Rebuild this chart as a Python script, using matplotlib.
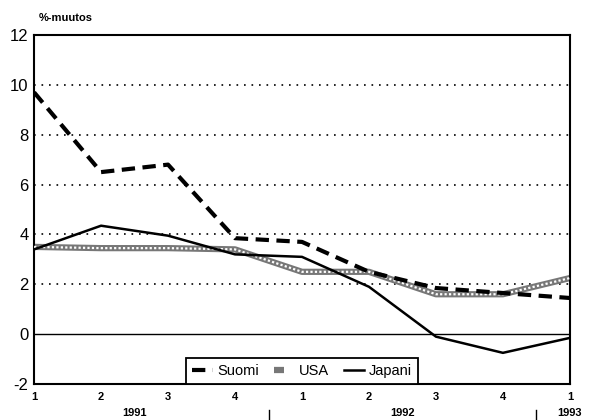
import matplotlib
matplotlib.use("Agg")
import matplotlib.pyplot as plt
import matplotlib.transforms as mtransforms
from matplotlib.legend_handler import HandlerTuple

plt.rcParams['font.family'] = ['Liberation Sans', 'DejaVu Sans']

# ============================================================================
# Data (annual % change, quarterly)
# ============================================================================
quarter_labels = ['1', '2', '3', '4', '1', '2', '3', '4', '1']
years = ['1991', '1992', '1993']
year_pos = [1.5, 5.5, 8]
year_breaks = [3.5, 7.5]

suomi = [9.7, 6.5, 6.8, 3.85, 3.7, 2.5, 1.85, 1.65, 1.45]
usa = [3.5, 3.45, 3.45, 3.4, 2.5, 2.5, 1.6, 1.6, 2.25]
japani = [3.4, 4.35, 3.95, 3.2, 3.1, 1.9, -0.1, -0.75, -0.15]

x = list(range(len(quarter_labels)))

# ============================================================================
# Plotting
# ============================================================================
fig = plt.figure(figsize=(5.98, 4.2), dpi=100)
ax = fig.add_axes([0.057, 0.0857, 0.896, 0.831])

# dotted grid lines and the zero line
for yv in [2, 4, 6, 8, 10]:
    ax.axhline(yv, color='black', lw=1.2, ls=(0, (1, 3.5)), zorder=1)
ax.axhline(0, color='black', lw=1.0, zorder=1)

# USA: grey hatched band made of two overlaid lines
usa_base, = ax.plot(x, usa, color='#777777', lw=4.5, zorder=2,
                    solid_capstyle='butt')
usa_top, = ax.plot(x, usa, color='white', lw=1.6, ls=(0, (1, 1)), zorder=3)
jap_line, = ax.plot(x, japani, color='black', lw=1.8, zorder=4)
suomi_line, = ax.plot(x, suomi, color='black', lw=3, ls=(0, (3.2, 1.8)),
                      zorder=5, dash_capstyle='butt')

ax.set_xlim(0, 8)
ax.set_ylim(-2, 12)
ax.set_yticks(range(-2, 13, 2))
ax.set_yticklabels([str(v) for v in range(-2, 13, 2)], fontsize=12)
ax.set_xticks(x)
ax.set_xticklabels(quarter_labels, fontsize=8, fontweight='bold')
ax.tick_params(axis='both', length=0)
ax.tick_params(axis='y', pad=4)
ax.tick_params(axis='x', pad=6)
for s in ax.spines.values():
    s.set_linewidth(1.5)

# year labels and separators under the axis
trans = mtransforms.blended_transform_factory(ax.transData, ax.transAxes)
for pos, yr in zip(year_pos, years):
    ax.text(pos, -0.083, yr, transform=trans, ha='center', va='center',
            fontsize=8, fontweight='bold')
for b in year_breaks:
    ax.plot([b, b], [-0.075, -0.105], transform=trans, color='black',
            lw=1, clip_on=False)

fig.text(0.064, 0.958, '%-muutos', fontsize=8, fontweight='bold',
         ha='left', va='center')

leg = ax.legend([suomi_line, (usa_base, usa_top), jap_line],
                ['Suomi', 'USA', 'Japani'],
                handler_map={tuple: HandlerTuple(ndivide=None, pad=0)},
                loc='lower left', bbox_to_anchor=(0.284, 0, 0.432, 0.117),
                mode='expand', ncol=3, fontsize=10.5, handlelength=1.4,
                handletextpad=0.3, columnspacing=0.8, borderaxespad=0,
                fancybox=False, framealpha=1, edgecolor='black')
leg.get_frame().set_linewidth(1.3)
leg.set_zorder(6)

fig.savefig('out.png', dpi=100)
